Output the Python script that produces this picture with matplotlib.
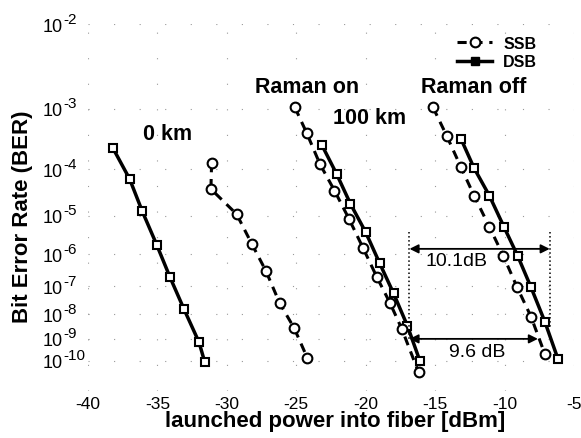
import numpy as np
import matplotlib
matplotlib.use("Agg")
import matplotlib.pyplot as plt
from matplotlib.lines import Line2D
from matplotlib.ticker import NullLocator
from matplotlib.transforms import blended_transform_factory, offset_copy

plt.rcParams['font.family'] = ['Liberation Sans', 'DejaVu Sans']
plt.rcParams['axes.unicode_minus'] = False

# values: launched power [dBm] and BER
p_0km_dsb = [-38.2, -37.0, -36.1, -35.05, -34.1, -33.1, -32.0, -31.6]
ber_0km_dsb = [2.4e-4, 6.4e-5, 1.3e-5, 1.8e-6, 2.0e-7, 1.6e-8, 7.0e-10, 9.0e-11]

p_0km_ssb = [-31.1, -31.15, -29.3, -28.2, -27.2, -26.2, -25.15, -24.2]
ber_0km_ssb = [1.3e-4, 4.0e-5, 1.1e-5, 1.9e-6, 3.2e-7, 2.6e-8, 2.8e-9, 1.35e-10]

p_on_ssb = [-25.1, -24.25, -23.3, -22.25, -21.2, -20.2, -19.2, -18.25, -17.4, -16.2]
ber_on_ssb = [1.05e-3, 4.3e-4, 1.25e-4, 3.7e-5, 8.4e-6, 1.5e-6, 2.0e-7, 2.6e-8, 2.6e-9, 2.8e-11]

p_on_dsb = [-23.15, -22.1, -21.1, -20.0, -19.0, -18.0, -17.0, -16.1]
ber_on_dsb = [2.7e-4, 8.1e-5, 1.9e-5, 3.9e-6, 5.4e-7, 5.8e-8, 3.5e-9, 1.0e-10]

p_off_ssb = [-15.15, -14.15, -13.15, -12.2, -11.1, -10.1, -9.1, -8.1, -7.1]
ber_off_ssb = [1.05e-3, 3.8e-4, 1.1e-4, 2.9e-5, 5.4e-6, 9.0e-7, 9.3e-8, 8.1e-9, 2.1e-10]

p_off_dsb = [-13.15, -12.2, -11.1, -10.05, -9.05, -8.1, -7.1, -6.15]
ber_off_dsb = [3.5e-4, 1.05e-4, 2.9e-5, 5.4e-6, 8.7e-7, 9.3e-8, 5.1e-9, 1.2e-10]

ytick_exp = [-2, -3, -4, -5, -6, -7, -8, -9, -10]
xticks = [-40, -35, -30, -25, -20, -15, -10, -5]


# BER axis: -log10(-log10(BER))
def fwd(y):
    with np.errstate(all="ignore"):
        return -np.log10(-np.log10(y))


def inv(f):
    return 10.0 ** (-(10.0 ** (-np.asarray(f))))


fig = plt.figure(figsize=(5.81, 4.39), dpi=100)
ax = fig.add_axes([0.1515, 0.108, 0.8365, 0.8348])
ax.set_yscale("function", functions=(fwd, inv))
ax.set_xlim(-40, -5)
ax.set_ylim(3e-12, 1e-2)

for s in ax.spines.values():
    s.set_visible(False)

dsb = dict(color='k', lw=2.5, marker='s', ms=6.3, mfc='white', mec='k', mew=1.5)
ssb = dict(color='k', lw=2.2, ls=(0, (3, 2.2)), marker='o', ms=7, mfc='white', mec='k', mew=1.5)

ax.plot(p_0km_dsb, ber_0km_dsb, **dsb)
ax.plot(p_0km_ssb, ber_0km_ssb, **ssb)
ax.plot(p_on_dsb, ber_on_dsb, **dsb)
ax.plot(p_on_ssb, ber_on_ssb, **ssb)
ax.plot(p_off_dsb, ber_off_dsb, **dsb)
ax.plot(p_off_ssb, ber_off_ssb, **ssb)

# ticks
ax.set_xticks(xticks)
ax.set_xticklabels([str(v) for v in xticks])
ax.set_yticks([10.0 ** e for e in ytick_exp])
ax.yaxis.set_minor_locator(NullLocator())
ax.xaxis.set_minor_locator(NullLocator())
ax.tick_params(axis='both', length=0, labelsize=12.5)
ax.tick_params(axis='y', labelleft=False)
ax.tick_params(axis='x', pad=4)

# y labels as 10 with a raised exponent, left aligned like the original
trans = blended_transform_factory(fig.transFigure, ax.transData)
sup = offset_copy(trans, fig=fig, x=0, y=7, units='dots')
for e in ytick_exp:
    ax.text(43 / 581, 10.0 ** e, '10', transform=trans, ha='left', va='center_baseline', fontsize=13)
    ax.text(63.5 / 581, 10.0 ** e, str(e), transform=sup, ha='left', va='center_baseline', fontsize=11)

ax.grid(True, ls=(0, (1, 22)), lw=0.8, color='0.6')

fig.text(335.5 / 581, 1 - 427 / 439, 'launched power into fiber [dBm]',
         ha='center', va='baseline', fontsize=16, fontweight='bold')
fig.text(22.5 / 581, 1 - 217 / 439, 'Bit Error Rate (BER)', rotation=90,
         ha='center', va='center', fontsize=16, fontweight='bold')

# curve labels
ax.text(-34.25, 4.3e-4, '0 km', ha='center', va='center', fontsize=15.5, fontweight='bold')
ax.text(-24.2, 2.05e-3, 'Raman on', ha='center', va='center', fontsize=15.5, fontweight='bold')
ax.text(-19.7, 7.4e-4, '100 km', ha='center', va='center', fontsize=15.5, fontweight='bold')
ax.text(-12.25, 2.0e-3, 'Raman off', ha='center', va='center', fontsize=15.5, fontweight='bold')

# power penalty markers
ax.plot([-16.85, -16.85], [4e-6, 1e-9], color='k', ls=':', lw=1.1)
ax.plot([-6.75, -6.75], [4e-6, 3e-9], color='k', ls=':', lw=1.1)
arrow = dict(arrowstyle='<|-|>', color='k', lw=1.3, mutation_scale=13, shrinkA=0, shrinkB=0)
ax.annotate('', xy=(-6.75, 1.4e-6), xytext=(-16.85, 1.4e-6), arrowprops=arrow)
ax.annotate('', xy=(-7.6, 1e-9), xytext=(-16.85, 1e-9), arrowprops=arrow)
ax.text(-13.45, 6.3e-7, '10.1dB', ha='center', va='center', fontsize=14)
ax.text(-12.0, 2.9e-10, '9.6 dB', ha='center', va='center', fontsize=14)

handles = [
    Line2D([], [], color='k', lw=2.2, ls=(0, (3, 2.2)), marker='o', ms=7, mfc='white', mec='k', mew=1.5),
    Line2D([], [], color='k', lw=2.5, marker='s', ms=6.3, mfc='k', mec='k'),
]
ax.legend(handles, ['SSB', 'DSB'], loc='upper left', bbox_to_anchor=(457 / 581, 1 - 37 / 439),
          bbox_transform=fig.transFigure, frameon=False, borderpad=0, borderaxespad=0,
          handlelength=2.2, handletextpad=0.7, labelspacing=0.2,
          prop={'weight': 'bold', 'size': 11.5})

fig.savefig('out.png', dpi=100)
